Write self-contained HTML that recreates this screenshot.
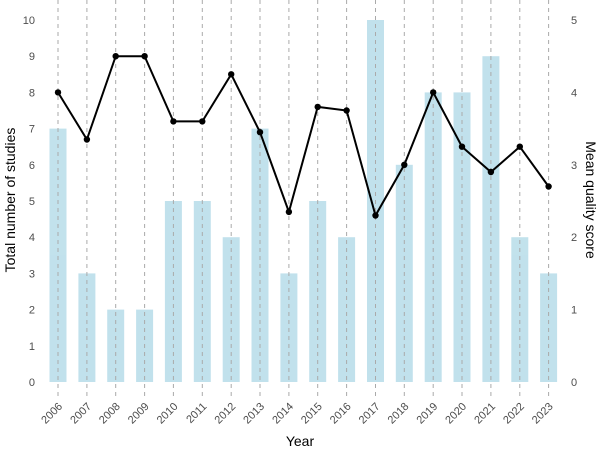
<!DOCTYPE html><html><head><style>body{margin:0;background:#fff}</style></head><body>
<svg width="600" height="450" xmlns="http://www.w3.org/2000/svg" font-family="Liberation Sans, sans-serif">
<g fill="#add8e6" opacity="0.75">
<rect x="49.5" y="128.6" width="17" height="253.4"/>
<rect x="78.4" y="273.4" width="17" height="108.6"/>
<rect x="107.2" y="309.6" width="17" height="72.4"/>
<rect x="136.1" y="309.6" width="17" height="72.4"/>
<rect x="164.9" y="201" width="17" height="181"/>
<rect x="193.8" y="201" width="17" height="181"/>
<rect x="222.7" y="237.2" width="17" height="144.8"/>
<rect x="251.5" y="128.6" width="17" height="253.4"/>
<rect x="280.4" y="273.4" width="17" height="108.6"/>
<rect x="309.2" y="201" width="17" height="181"/>
<rect x="338.1" y="237.2" width="17" height="144.8"/>
<rect x="367" y="20" width="17" height="362"/>
<rect x="395.8" y="164.8" width="17" height="217.2"/>
<rect x="424.7" y="92.4" width="17" height="289.6"/>
<rect x="453.5" y="92.4" width="17" height="289.6"/>
<rect x="482.4" y="56.2" width="17" height="325.8"/>
<rect x="511.3" y="237.2" width="17" height="144.8"/>
<rect x="540.1" y="273.4" width="17" height="108.6"/>
</g>
<g stroke="#aaa" stroke-width="1" stroke-dasharray="4,4">
<line x1="58" x2="58" y1="0" y2="400"/><line x1="86.9" x2="86.9" y1="0" y2="400"/><line x1="115.7" x2="115.7" y1="0" y2="400"/><line x1="144.6" x2="144.6" y1="0" y2="400"/><line x1="173.4" x2="173.4" y1="0" y2="400"/><line x1="202.3" x2="202.3" y1="0" y2="400"/><line x1="231.2" x2="231.2" y1="0" y2="400"/><line x1="260" x2="260" y1="0" y2="400"/><line x1="288.9" x2="288.9" y1="0" y2="400"/><line x1="317.7" x2="317.7" y1="0" y2="400"/><line x1="346.6" x2="346.6" y1="0" y2="400"/><line x1="375.5" x2="375.5" y1="0" y2="400"/><line x1="404.3" x2="404.3" y1="0" y2="400"/><line x1="433.2" x2="433.2" y1="0" y2="400"/><line x1="462" x2="462" y1="0" y2="400"/><line x1="490.9" x2="490.9" y1="0" y2="400"/><line x1="519.8" x2="519.8" y1="0" y2="400"/><line x1="548.6" x2="548.6" y1="0" y2="400"/>
</g>
<polyline fill="none" stroke="#000" stroke-width="2" points="58,92.4 86.9,139.5 115.7,56.2 144.6,56.2 173.4,121.4 202.3,121.4 231.2,74.3 260,132.2 288.9,211.9 317.7,106.9 346.6,110.5 375.5,215.5 404.3,164.8 433.2,92.4 462,146.7 490.9,172 519.8,146.7 548.6,186.5"/>
<g fill="#000">
<circle cx="58" cy="92.4" r="3.2"/><circle cx="86.9" cy="139.5" r="3.2"/><circle cx="115.7" cy="56.2" r="3.2"/><circle cx="144.6" cy="56.2" r="3.2"/><circle cx="173.4" cy="121.4" r="3.2"/><circle cx="202.3" cy="121.4" r="3.2"/><circle cx="231.2" cy="74.3" r="3.2"/><circle cx="260" cy="132.2" r="3.2"/><circle cx="288.9" cy="211.9" r="3.2"/><circle cx="317.7" cy="106.9" r="3.2"/><circle cx="346.6" cy="110.5" r="3.2"/><circle cx="375.5" cy="215.5" r="3.2"/><circle cx="404.3" cy="164.8" r="3.2"/><circle cx="433.2" cy="92.4" r="3.2"/><circle cx="462" cy="146.7" r="3.2"/><circle cx="490.9" cy="172" r="3.2"/><circle cx="519.8" cy="146.7" r="3.2"/><circle cx="548.6" cy="186.5" r="3.2"/>
</g>
<g font-size="11" fill="#4d4d4d" text-anchor="end">
<text transform="translate(63,407) rotate(-45)">2006</text><text transform="translate(91.9,407) rotate(-45)">2007</text><text transform="translate(120.7,407) rotate(-45)">2008</text><text transform="translate(149.6,407) rotate(-45)">2009</text><text transform="translate(178.4,407) rotate(-45)">2010</text><text transform="translate(207.3,407) rotate(-45)">2011</text><text transform="translate(236.2,407) rotate(-45)">2012</text><text transform="translate(265,407) rotate(-45)">2013</text><text transform="translate(293.9,407) rotate(-45)">2014</text><text transform="translate(322.7,407) rotate(-45)">2015</text><text transform="translate(351.6,407) rotate(-45)">2016</text><text transform="translate(380.5,407) rotate(-45)">2017</text><text transform="translate(409.3,407) rotate(-45)">2018</text><text transform="translate(438.2,407) rotate(-45)">2019</text><text transform="translate(467,407) rotate(-45)">2020</text><text transform="translate(495.9,407) rotate(-45)">2021</text><text transform="translate(524.8,407) rotate(-45)">2022</text><text transform="translate(553.6,407) rotate(-45)">2023</text>
<text x="35" y="386">0</text><text x="35" y="349.8">1</text><text x="35" y="313.6">2</text><text x="35" y="277.4">3</text><text x="35" y="241.2">4</text><text x="35" y="205">5</text><text x="35" y="168.8">6</text><text x="35" y="132.6">7</text><text x="35" y="96.4">8</text><text x="35" y="60.2">9</text><text x="35" y="24">10</text>
</g>
<g font-size="11" fill="#4d4d4d">
<text x="571" y="386">0</text><text x="571" y="313.6">1</text><text x="571" y="241.2">2</text><text x="571" y="168.8">3</text><text x="571" y="96.4">4</text><text x="571" y="24">5</text>
</g>
<text x="300" y="446" text-anchor="middle" font-size="14">Year</text>
<text transform="translate(15,200) rotate(-90)" text-anchor="middle" font-size="14">Total number of studies</text>
<text transform="translate(586,200) rotate(90)" text-anchor="middle" font-size="14">Mean quality score</text>
</svg></body></html>
